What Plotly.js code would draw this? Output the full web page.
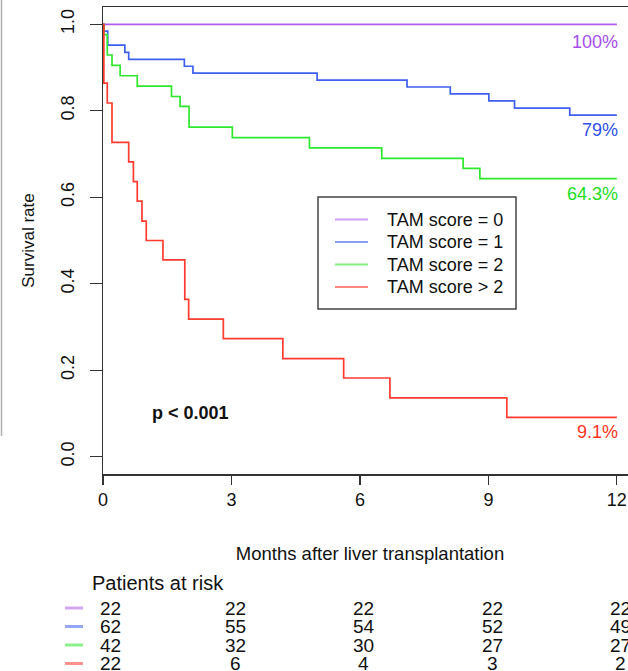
<!DOCTYPE html>
<html>
<head>
<meta charset="utf-8">
<script src="https://cdn.plot.ly/plotly-3.0.1.min.js"></script>
<style>
html,body{margin:0;padding:0;overflow:hidden;background:#fff;}
#chart{width:640px;height:671px;}
</style>
</head>
<body>
<div id="chart"></div>
<script>
// ---- data ----
var groupNames = ["TAM score = 0", "TAM score = 1", "TAM score = 2", "TAM score > 2"];
var endLabels = ["100%", "79%", "64.3%", "9.1%"];

var t0 = [0, 12];
var s0 = [1, 1];

var t1 = [0, 0.02, 0.11, 0.51, 0.60, 1.90, 2.10, 5.00, 7.10, 8.11, 9.01, 9.61, 10.90, 12];
var s1 = [1, 0.984, 0.952, 0.935, 0.919, 0.903, 0.887, 0.871, 0.855, 0.839, 0.823, 0.806, 0.790, 0.790];

var t2 = [0, 0.02, 0.10, 0.21, 0.40, 0.80, 1.60, 1.80, 2.01, 3.02, 4.82, 6.51, 8.41, 8.80, 12];
var s2 = [1, 0.976, 0.929, 0.905, 0.881, 0.857, 0.833, 0.810, 0.762, 0.738, 0.714, 0.690, 0.667, 0.643, 0.643];

var t3 = [0, 0.02, 0.10, 0.21, 0.60, 0.71, 0.80, 0.91, 1.01, 1.40, 1.91, 2.00, 2.81, 4.20, 5.62, 6.70, 9.43, 12];
var s3 = [1, 0.864, 0.818, 0.727, 0.682, 0.636, 0.591, 0.545, 0.500, 0.455, 0.364, 0.318, 0.273, 0.227, 0.182, 0.136, 0.091, 0.091];

var riskTimes = [0, 3, 6, 9, 12];
var risk0 = [22, 22, 22, 22, 22];
var risk1 = [62, 55, 54, 52, 49];
var risk2 = [42, 32, 30, 27, 27];
var risk3 = [22, 6, 4, 3, 2];

var xTicks = [0, 3, 6, 9, 12];
var yTicks = [0, 0.2, 0.4, 0.6, 0.8, 1.0];
var yTickLabels = ["0.0", "0.2", "0.4", "0.6", "0.8", "1.0"];
var pText = "p < 0.001";

// ---- styling ----
var colors = ["#B15CF0", "#3F5FF0", "#2EE82E", "#FF3B2F"];
var labelColors = ["#A64DEB", "#2F50E8", "#22DD22", "#FF3322"];
var FONT = "Liberation Sans, Arial, Helvetica, sans-serif";

var times = [t0, t1, t2, t3];
var surv = [s0, s1, s2, s3];
var risks = [risk0, risk1, risk2, risk3];

var traces = [];
for (var i = 0; i < 4; i++) {
  traces.push({
    x: times[i], y: surv[i], type: "scatter", mode: "lines",
    line: {shape: "hv", color: colors[i], width: 1.7},
    name: groupNames[i], hoverinfo: "skip", showlegend: false
  });
}

// pixel helpers for placing non-data items
var W = 640, H = 671, ML = 103, MR = 3, MT = 7, MB = 197;
var PW = W - ML - MR, PH = H - MT - MB;
function px2paperX(p) { return (p - ML) / PW; }
function px2paperY(p) { return (H - MB - p) / PH; }

var annotations = [];
var shapes = [];
// end labels
for (var i = 0; i < 4; i++) {
  annotations.push({
    x: times[i][times[i].length - 1], y: surv[i][surv[i].length - 1],
    xref: "x", yref: "y", text: endLabels[i], showarrow: false,
    xanchor: "right", yanchor: "middle", xshift: 3, yshift: (i === 0 ? -18 : -15),
    font: {family: FONT, size: 18, color: labelColors[i]}
  });
}
// p value
annotations.push({
  x: px2paperX(150), y: px2paperY(413), xref: "paper", yref: "paper",
  text: "<b>" + pText.replace("<", "&lt;") + "</b>", showarrow: false,
  xanchor: "left", yanchor: "middle",
  font: {family: FONT, size: 18, color: "#111"}
});

// legend box (drawn manually to match spacing)
shapes.push({
  type: "rect", xref: "paper", yref: "paper",
  x0: px2paperX(318), x1: px2paperX(516), y0: px2paperY(197), y1: px2paperY(309),
  line: {color: "#444", width: 1.5}, fillcolor: "#fff", layer: "above"
});
var legPx = [219.5, 242, 264.5, 287];
for (var i = 0; i < 4; i++) {
  shapes.push({
    type: "line", xref: "paper", yref: "paper",
    x0: px2paperX(335), x1: px2paperX(368), y0: px2paperY(legPx[i]), y1: px2paperY(legPx[i]),
    line: {color: colors[i], width: 1.8}, opacity: 0.6, layer: "above"
  });
  annotations.push({
    x: px2paperX(385), y: px2paperY(legPx[i]), xref: "paper", yref: "paper",
    text: groupNames[i].replace(">", "&gt;"), showarrow: false, xanchor: "left", yanchor: "middle",
    font: {family: FONT, size: 18, color: "#111"}
  });
}

// Patients at risk header
annotations.push({
  x: px2paperX(90), y: px2paperY(583), xref: "paper", yref: "paper",
  text: "Patients at risk", showarrow: false, xanchor: "left", yanchor: "middle",
  font: {family: FONT, size: 20, color: "#111"}
});
var rowPx = [608, 626.5, 645, 663.5];
for (var r = 0; r < 4; r++) {
  for (var c = 0; c < riskTimes.length; c++) {
    annotations.push({
      x: riskTimes[c], y: px2paperY(rowPx[r]), xref: "x", yref: "paper",
      text: String(risks[r][c]), showarrow: false, xanchor: "center", yanchor: "middle",
      xshift: (c === 0 ? 7 : 4),
      font: {family: FONT, size: 19, color: "#111"}
    });
  }
  shapes.push({
    type: "line", xref: "paper", yref: "paper",
    x0: px2paperX(65), x1: px2paperX(83), y0: px2paperY(rowPx[r]), y1: px2paperY(rowPx[r]),
    line: {color: colors[r], width: 3}, opacity: 0.55
  });
}
// cropped-border artifact at far left
shapes.push({
  type: "line", xref: "paper", yref: "paper",
  x0: px2paperX(1.5), x1: px2paperX(1.5), y0: px2paperY(0), y1: px2paperY(436),
  line: {color: "#b0b0b0", width: 1.5}
});

var layout = {
  width: W, height: H,
  margin: {l: ML, r: MR, t: MT, b: MB, pad: 0},
  paper_bgcolor: "#fff", plot_bgcolor: "#fff",
  font: {family: FONT, size: 18, color: "#111"},
  showlegend: false,
  xaxis: {
    range: [0, 12.47], tickvals: xTicks, ticktext: xTicks.map(String),
    ticks: "outside", ticklen: 9, tickwidth: 1.2, tickcolor: "#333",
    showline: true, mirror: true, linecolor: "#333", linewidth: 1.5,
    showgrid: false, zeroline: false,
    tickfont: {family: FONT, size: 18, color: "#111"},
    title: {text: "Months after liver transplantation", standoff: 38,
            font: {family: FONT, size: 18.5, color: "#111"}}
  },
  yaxis: {
    range: [-0.04, 1.04], tickvals: yTicks, ticktext: yTickLabels,
    tickangle: -90, ticklabelstandoff: 8,
    ticks: "outside", ticklen: 12, tickwidth: 1.2, tickcolor: "#333",
    showline: true, mirror: true, linecolor: "#333", linewidth: 1.5,
    showgrid: false, zeroline: false,
    tickfont: {family: FONT, size: 18, color: "#111"},
    title: {text: "Survival rate", standoff: 19,
            font: {family: FONT, size: 17, color: "#111"}}
  },
  annotations: annotations,
  shapes: shapes
};

Plotly.newPlot("chart", traces, layout, {staticPlot: true, displayModeBar: false});
</script>
</body>
</html>
